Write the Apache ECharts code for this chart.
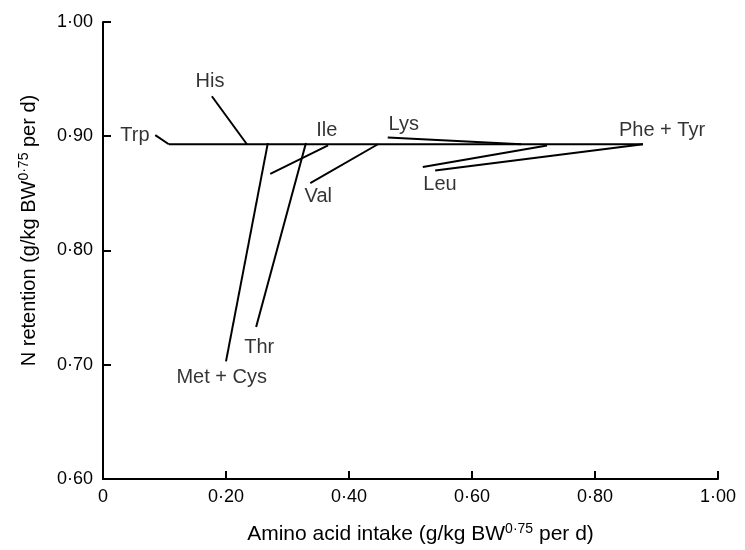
<!DOCTYPE html>
<html>
<head>
<meta charset="utf-8">
<script src="https://cdn.jsdelivr.net/npm/echarts@6/dist/echarts.min.js"></script>
<style>html,body{margin:0;padding:0;background:#fff}#c{width:745px;height:550px}</style>
</head>
<body>
<div id="c"></div>
<script>
// Tick values
const xTicks = [0, 0.2, 0.4, 0.6, 0.8, 1.0];
const yTicks = [0.6, 0.7, 0.8, 0.9, 1.0];

// Broken-line segments (amino acid intake, N retention)
const plateau  = [[0.107, 0.893], [0.878, 0.893]];
const trp      = [[0.085, 0.901], [0.107, 0.893]];
const his      = [[0.177, 0.935], [0.234, 0.893]];
const metCys   = [[0.200, 0.703], [0.268, 0.894]];
const thr      = [[0.249, 0.733], [0.330, 0.894]];
const ile      = [[0.272, 0.867], [0.366, 0.892]];
const val      = [[0.337, 0.859], [0.447, 0.893]];
const lys      = [[0.463, 0.899], [0.680, 0.893]];
const leu      = [[0.520, 0.873], [0.722, 0.892]];
const pheTyr   = [[0.540, 0.870], [0.878, 0.893]];

// Annotation labels (anchor in data units)
const labelNames = ['His', 'Trp', 'Ile', 'Lys', 'Val', 'Leu', 'Phe + Tyr', 'Thr', 'Met + Cys'];
const labelPos = [[0.174, 0.948], [0.052, 0.901], [0.364, 0.905], [0.489, 0.910], [0.350, 0.847],
                  [0.548, 0.858], [0.909, 0.905], [0.254, 0.715], [0.193, 0.689]];

const segs = [plateau, trp, his, metCys, thr, ile, val, lys, leu, pheTyr];
const font = 'Liberation Sans, Arial, sans-serif';

function fmt(v) {
  if (Math.abs(v) < 1e-9) return '0';
  return v.toFixed(2).replace('.', '\u00b7');
}

const series = segs.map(s => ({
  type: 'line', data: s, symbol: 'none', silent: true,
  lineStyle: { color: '#000', width: 2 }
}));
series.push({
  type: 'scatter', symbolSize: 0, silent: true,
  data: labelPos.map((p, i) => ({ value: p, name: labelNames[i] })),
  label: { show: true, position: 'inside', formatter: p => p.name,
           color: '#000', fontSize: 20, fontFamily: font }
});

const chart = echarts.init(document.getElementById('c'), null, { renderer: 'canvas' });
chart.setOption({
  animation: false,
  backgroundColor: '#fff',
  grid: { left: 103, right: 27, top: 22, bottom: 64, containLabel: false },
  xAxis: {
    type: 'value', min: 0, max: 1, interval: 0.2,
    axisLine: { show: true, lineStyle: { color: '#000', width: 2 } },
    axisTick: { show: true, inside: true, length: 8, lineStyle: { color: '#000', width: 2 } },
    splitLine: { show: false },
    axisLabel: { formatter: fmt, color: '#000', fontSize: 18, fontFamily: font, margin: 9 },
    name: 'Amino acid intake (g/kg BW{sup|0\u00b775} per d)',
    nameLocation: 'middle', nameGap: 43,
    nameTextStyle: { color: '#000', fontSize: 21, fontFamily: font, padding: [0, 0, 0, 20],
      rich: { sup: { fontSize: 14, fontFamily: font, color: '#000', padding: [0, 0, 11, 0] } } }
  },
  yAxis: {
    type: 'value', min: 0.6, max: 1, interval: 0.1,
    axisLine: { show: true, lineStyle: { color: '#000', width: 2 } },
    axisTick: { show: true, inside: true, length: 8, lineStyle: { color: '#000', width: 2 } },
    splitLine: { show: false },
    axisLabel: { formatter: fmt, color: '#000', fontSize: 18, fontFamily: font, margin: 10 },
    name: 'N retention (g/kg BW{sup|0\u00b775} per d)',
    nameLocation: 'middle', nameGap: 61,
    nameTextStyle: { color: '#000', fontSize: 20, fontFamily: font, padding: [0, 0, 0, 40],
      rich: { sup: { fontSize: 14, fontFamily: font, color: '#000', padding: [0, 0, 11, 0] } } }
  },
  series: series
});
</script>
</body>
</html>
